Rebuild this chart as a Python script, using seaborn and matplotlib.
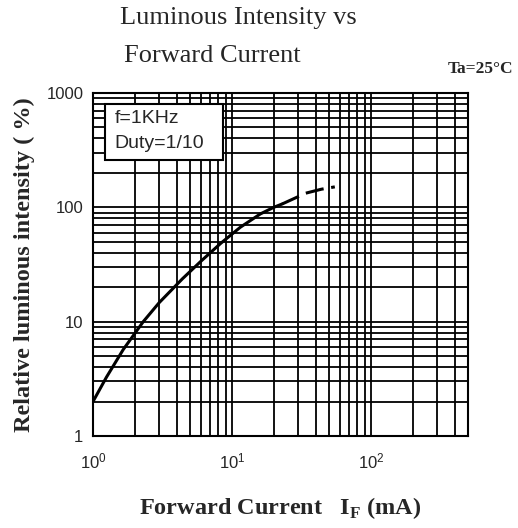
import pandas as pd
import numpy as np
import matplotlib
matplotlib.use('Agg')
import matplotlib.pyplot as plt
import seaborn as sns
from matplotlib.ticker import LogLocator, FixedLocator, FixedFormatter, NullFormatter

# data
current_solid = [1, 1.25, 1.65, 2.3, 3, 4.4, 6, 8.3, 11.5, 16, 20, 23]
intensity_solid = [2, 3.27, 5.7, 10, 14.7, 23.7, 33.9, 48.4, 67, 87.5, 100, 107]
current_dashed = [23, 34, 44, 55]
intensity_dashed = [107, 133, 144, 151]

y_ticks = [1, 10, 100, 1000]
y_tick_labels = ['1', '10', '100', '1000']

sns.set_style('white')
plt.rcParams['font.family'] = ['Liberation Sans', 'DejaVu Sans']

df_solid = pd.DataFrame({'If': current_solid, 'Iv': intensity_solid})
df_dashed = pd.DataFrame({'If': current_dashed, 'Iv': intensity_dashed})

fig = plt.figure(figsize=(5.18, 5.28), dpi=100)
ax = fig.add_axes([0.1795, 0.1742, 0.7240, 0.6497])

sns.lineplot(data=df_solid, x='If', y='Iv', ax=ax, color='black', linewidth=2.2)
sns.lineplot(data=df_dashed, x='If', y='Iv', ax=ax, color='black', linewidth=2.2,
             linestyle=(0, (6, 2.5)))

ax.set_xscale('log')
ax.set_yscale('log')
ax.set_xlim(1, 500)
ax.set_ylim(1, 1000)

# log grid, major and minor
ax.xaxis.set_major_locator(LogLocator(base=10, numticks=10))
ax.xaxis.set_minor_locator(LogLocator(base=10, subs=np.arange(2, 10), numticks=20))
ax.xaxis.set_minor_formatter(NullFormatter())
ax.yaxis.set_major_locator(FixedLocator(y_ticks))
ax.yaxis.set_major_formatter(FixedFormatter(y_tick_labels))
ax.yaxis.set_minor_locator(LogLocator(base=10, subs=np.arange(2, 10), numticks=20))
ax.yaxis.set_minor_formatter(NullFormatter())
ax.grid(True, which='both', color='black', linewidth=1.3)
ax.set_axisbelow(True)
ax.tick_params(which='both', length=0, labelsize=12)
ax.tick_params(axis='x', pad=11)
ax.tick_params(axis='y', pad=7)
for s in ax.spines.values():
    s.set_color('black')
    s.set_linewidth(1.5)

ax.set_xlabel('Forward Current   I$_{\\mathregular{F}}$ (mA)', family='Liberation Serif',
              fontweight='bold', fontsize=17.5, labelpad=17)
ax.set_ylabel('Relative luminous intensity ( %)', family='Liberation Serif',
              fontweight='bold', fontsize=17.5, labelpad=8)

# condition box
ax.add_patch(plt.Rectangle((0.032, 0.805), 0.315, 0.163, transform=ax.transAxes,
                           facecolor='white', edgecolor='black', linewidth=1.5, zorder=5))
ax.text(0.058, 0.925, 'f=1KHz', transform=ax.transAxes, fontsize=14,
        va='center', ha='left', zorder=6)
ax.text(0.058, 0.852, 'Duty=1/10', transform=ax.transAxes, fontsize=14,
        va='center', ha='left', zorder=6)

fig.text(0.232, 0.965, 'Luminous Intensity vs', ha='left', va='center',
         family='Liberation Serif', fontsize=19)
fig.text(0.240, 0.894, 'Forward Current', ha='left', va='center',
         family='Liberation Serif', fontsize=19)
fig.text(0.99, 0.869, 'Ta=25°C', ha='right', va='center',
         family=['Liberation Serif', 'DejaVu Serif'], fontweight='bold', fontsize=12.5)

fig.savefig('out.png', dpi=100)
